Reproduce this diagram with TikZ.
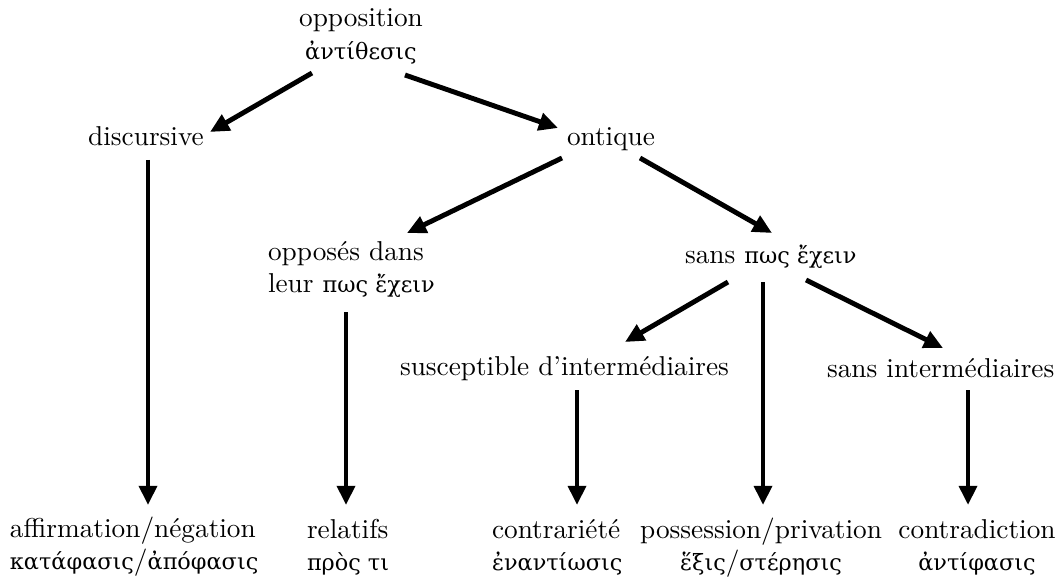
\documentclass[tikz,border=0pt]{standalone}
\usepackage{fontspec}
\newfontfamily\greekfnt{DejaVu Serif}[Scale=0.82]
\newcommand\gr[1]{{\greekfnt #1}}
\usetikzlibrary{arrows.meta,calc}
\tikzset{
  lbl/.style={inner sep=0pt, outer sep=0pt},
  arr/.style={line width=1.8pt, -{Triangle[length=7pt,width=6.4pt]}}
}
\newcommand\lcol[1]{\begin{tabular}[t]{@{}l@{}}#1\end{tabular}}
\newcommand\ccol[1]{\begin{tabular}[t]{@{}c@{}}#1\end{tabular}}
\begin{document}
\begin{tikzpicture}[x=0.3663pt, y=-0.3663pt]
\useasboundingbox (0,0) rectangle (1061,580);
% nodes
\node[lbl, anchor=base] (opp) at (361,27) {\ccol{opposition\\ \gr{ἀντίθεσις}}};
\node[lbl, anchor=base] (disc) at (146,146) {discursive};
\node[lbl, anchor=base] (ont) at (611,146) {ontique};
\node[lbl, anchor=base west] (opz) at (268,260) {\lcol{opposés dans\\ leur \gr{πως ἔχειν}}};
\node[lbl, anchor=base west] (sp) at (685,263) {sans \gr{πως ἔχειν}};
\node[lbl, anchor=base west] (sus) at (400,375) {susceptible d'intermédiaires};
\node[lbl, anchor=base west] (si) at (827,377) {sans intermédiaires};
\node[lbl, anchor=base west] (aff) at (10,537) {\lcol{affirmation/négation\\ \gr{κατάφασις}/\gr{ἀπόφασις}}};
\node[lbl, anchor=base west] (rel) at (307,538) {\lcol{relatifs\\ \gr{πρὸς τι}}};
\node[lbl, anchor=base west] (ctr) at (492,538) {\lcol{contrariété\\ \gr{ἐναντίωσις}}};
\node[lbl, anchor=base] (pos) at (761,538) {\ccol{possession/privation\\ \gr{ἕξις}/\gr{στέρησις}}};
\node[lbl, anchor=base] (cd) at (977,538) {\ccol{contradiction\\ \gr{ἀντίφασις}}};
% connectors
\draw[arr] ($(opp.base)+(-49,46)$) -- ($(disc.base)+(64,-14)$);
\draw[arr] ($(opp.base)+(44,48)$) -- ($(ont.base)+(-53,-18)$);
\draw[arr] ($(disc.base)+(2,14)$) -- ($(aff.base west)+(138,-32)$);
\draw[arr] ($(ont.base)+(-49,12)$) -- ($(opz.base west)+(139,-27)$);
\draw[arr] ($(ont.base)+(29,12)$) -- ($(sp.base west)+(87,-30)$);
\draw[arr] ($(opz.base west)+(78,52)$) -- ($(rel.base west)+(39,-33)$);
\draw[arr] ($(sp.base west)+(43,19)$) -- ($(sus.base west)+(225,-33)$);
\draw[arr] ($(sp.base west)+(78,19)$) -- ($(pos.base)+(2,-33)$);
\draw[arr] ($(sp.base west)+(121,17)$) -- ($(si.base west)+(116,-29)$);
\draw[arr] ($(sus.base west)+(177,15)$) -- ($(ctr.base west)+(85,-33)$);
\draw[arr] ($(si.base west)+(141,13)$) -- ($(cd.base)+(-9,-33)$);
\end{tikzpicture}
\end{document}
